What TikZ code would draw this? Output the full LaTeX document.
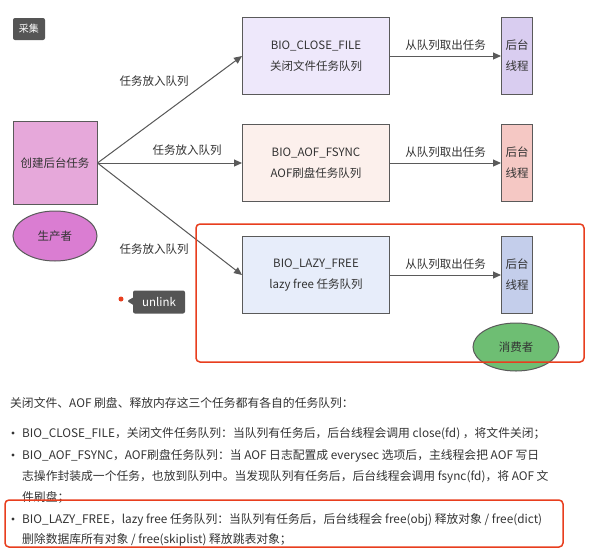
\documentclass[tikz,border=0pt]{standalone}
\usepackage{fontspec}
\setmainfont{Noto Sans CJK SC}
\usetikzlibrary{arrows.meta, positioning, shapes.geometric, shapes.callouts}
\definecolor{inkgray}{RGB}{51, 51, 51}
\definecolor{linegray}{RGB}{90, 90, 90}
\definecolor{tagdark}{RGB}{85, 85, 85}
\definecolor{prodpink}{RGB}{230, 168, 218}
\definecolor{prodviolet}{RGB}{218, 125, 210}
\definecolor{closefill}{RGB}{238, 232, 251}
\definecolor{aoffill}{RGB}{252, 240, 236}
\definecolor{lazyfill}{RGB}{231, 237, 250}
\definecolor{closethread}{RGB}{217, 205, 240}
\definecolor{aofthread}{RGB}{245, 200, 196}
\definecolor{lazythread}{RGB}{196, 206, 235}
\definecolor{consgreen}{RGB}{110, 190, 115}
\definecolor{markred}{RGB}{232, 62, 30}

\begin{document}
\begin{tikzpicture}[
        x=1pt, y=-1pt,
        queue/.style={rectangle, draw=linegray, line width=1pt, minimum width=147pt, minimum height=77pt, align=center, text=inkgray, font=\fontsize{11.5}{21}\selectfont},
        thread/.style={rectangle, draw=linegray, line width=1pt, minimum width=31pt, minimum height=77pt, inner sep=0pt, align=center, text=inkgray, font=\fontsize{11.5}{21}\selectfont},
        role/.style={ellipse, draw=linegray, line width=1pt, minimum width=84pt, minimum height=50pt, text=inkgray, font=\fontsize{11.5}{13}\selectfont},
        push/.style={-{Triangle[length=8pt, width=7pt]}, line width=1pt, draw=linegray, fill=linegray},
        label/.style={text=inkgray, font=\fontsize{11.5}{13}\selectfont},
        focus/.style={draw=markred, line width=1.5pt, rounded corners=4pt},
        line/.style={anchor=base west, text=inkgray, inner sep=0pt, font=\fontsize{11.8}{13}\selectfont}
    ]
        \useasboundingbox[fill=white] (0,0) rectangle (590,550);

        % Tag
        \node[fill=tagdark, rounded corners=2pt, text=white, minimum width=32pt, minimum height=22pt, inner sep=0pt, font=\fontsize{10}{12}\selectfont] (tag) at (29,29) {采集};

        % Producer
        \node[rectangle, draw=linegray, line width=1pt, fill=prodpink, minimum width=84pt, minimum height=83pt, text=inkgray, font=\fontsize{11.5}{13}\selectfont] (producer) at (55,163) {创建后台任务};
        \node[role, fill=prodviolet] (prodrole) at (55,236) {生产者};

        % Queues
        \node[queue, fill=closefill] (closeq) at (316,56) {BIO\_CLOSE\_FILE\\关闭文件任务队列};
        \node[queue, fill=aoffill] (aofq) at (316,163) {BIO\_AOF\_FSYNC\\AOF刷盘任务队列};
        \node[queue, fill=lazyfill] (lazyq) at (316,275) {BIO\_LAZY\_FREE\\lazy free 任务队列};

        % Background threads
        \node[thread, fill=closethread] (closet) at (517,56) {后台\\线程};
        \node[thread, fill=aofthread] (aoft) at (517,163) {后台\\线程};
        \node[thread, fill=lazythread] (lazyt) at (517,275) {后台\\线程};

        % Edges
        \draw[push] (producer.east) -- (closeq.west);
        \draw[push] (producer.east) -- (aofq.west);
        \draw[push] (producer.east) -- (lazyq.west);
        \node[label] (put1) at (154,81) {任务放入队列};
        \node[label] (put2) at (187,150) {任务放入队列};
        \node[label] (put3) at (154,249) {任务放入队列};

        \draw[push] (closeq) -- node[label, above=2pt] {从队列取出任务} (closet);
        \draw[push] (aofq) -- node[label, above=2pt] {从队列取出任务} (aoft);
        \draw[push] (lazyq) -- node[label, above=2pt] {从队列取出任务} (lazyt);

        % Consumer and highlight
        \node[role, fill=consgreen, minimum width=86pt, minimum height=48pt] (consrole) at (516,347) {消费者};
        \draw[focus] (196,224) rectangle (584,362);

        % unlink marker
        \node[circle, fill=markred, minimum size=5pt, inner sep=0pt] (dot) at (121,299) {};
        \node[rectangle callout, fill=tagdark, rounded corners=2pt, text=white, minimum width=52pt, minimum height=23pt, inner sep=0pt, font=\fontsize{11.5}{13}\selectfont, callout absolute pointer={(127,301)}] (unlink) at (159,302) {unlink};

        % Text below
        \node[line] (intro) at (10,407) {关闭文件、AOF 刷盘、释放内存这三个任务都有各自的任务队列：};
        \node[line] (b1) at (22,437) {BIO\_CLOSE\_FILE，关闭文件任务队列：当队列有任务后，后台线程会调用 close(fd) ，将文件关闭；};
        \node[line] (b2) at (22,459) {BIO\_AOF\_FSYNC，AOF刷盘任务队列：当 AOF 日志配置成 everysec 选项后，主线程会把 AOF 写日};
        \node[line] (b2a) at (22,480) {志操作封装成一个任务，也放到队列中。当发现队列有任务后，后台线程会调用 fsync(fd)，将 AOF 文};
        \node[line] (b2b) at (22,501) {件刷盘；};
        \node[line] (b3) at (22,523) {BIO\_LAZY\_FREE，lazy free 任务队列：当队列有任务后，后台线程会 free(obj) 释放对象 / free(dict)};
        \node[line] (b3a) at (22,543) {删除数据库所有对象 / free(skiplist) 释放跳表对象；};
        \foreach \y in {433,455,519}
            \fill[inkgray] (13,\y) circle (1.6pt);
        \draw[focus] (5,500) rectangle (563,547);
    \end{tikzpicture}
\end{document}
